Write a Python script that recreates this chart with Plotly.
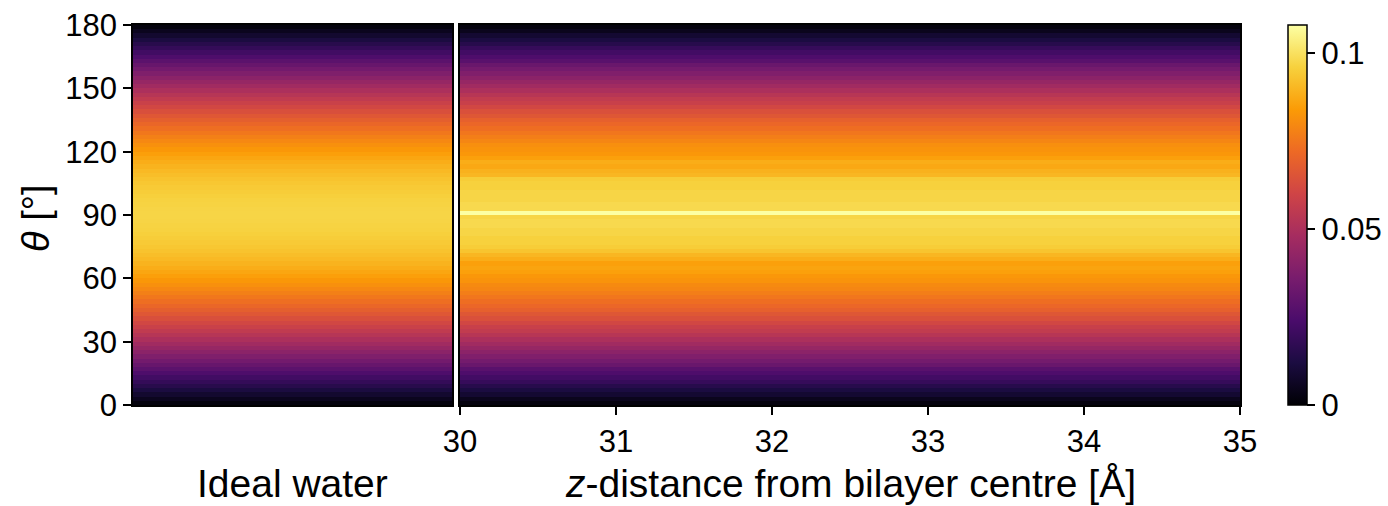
import plotly.graph_objects as go

# theta bin centres (2 degree bins)
theta = list(range(1, 180, 2))

# ideal water orientation distribution (single column)
ideal_profile = [
    0.0017, 0.0051, 0.0085, 0.0118, 0.0152, 0.0185, 0.0218, 0.0251, 0.0284, 0.0316,
    0.0348, 0.0379, 0.0410, 0.0440, 0.0470, 0.0500, 0.0528, 0.0556, 0.0584, 0.0610,
    0.0636, 0.0662, 0.0686, 0.0709, 0.0732, 0.0754, 0.0775, 0.0795, 0.0814, 0.0831,
    0.0848, 0.0864, 0.0879, 0.0893, 0.0906, 0.0917, 0.0928, 0.0937, 0.0945, 0.0952,
    0.0958, 0.0963, 0.0966, 0.0969, 0.0970,
    0.0970, 0.0969, 0.0966, 0.0963, 0.0958, 0.0952, 0.0945, 0.0937, 0.0928, 0.0917,
    0.0906, 0.0893, 0.0879, 0.0864, 0.0848, 0.0831, 0.0814, 0.0795, 0.0775, 0.0754,
    0.0732, 0.0709, 0.0686, 0.0662, 0.0636, 0.0610, 0.0584, 0.0556, 0.0528, 0.0500,
    0.0470, 0.0440, 0.0410, 0.0379, 0.0348, 0.0316, 0.0284, 0.0251, 0.0218, 0.0185,
    0.0152, 0.0118, 0.0085, 0.0051, 0.0017,
]

# simulated profile (same at every z)
sim_profile = [
    0.002, 0.005, 0.009, 0.012, 0.015, 0.019, 0.022, 0.025, 0.028, 0.032,
    0.035, 0.038, 0.041, 0.044, 0.047, 0.050, 0.053, 0.056, 0.058, 0.061,
    0.064, 0.066, 0.069, 0.071, 0.073, 0.075, 0.077, 0.079, 0.080, 0.082,
    0.083, 0.085, 0.086, 0.085, 0.088, 0.090, 0.093, 0.095, 0.096, 0.096,
    0.097, 0.097, 0.098, 0.098, 0.097, 0.108, 0.098, 0.098, 0.097, 0.097,
    0.097, 0.096, 0.096, 0.095, 0.090, 0.089, 0.087, 0.088, 0.085, 0.083,
    0.082, 0.081, 0.079, 0.077, 0.075, 0.073, 0.071, 0.069, 0.066, 0.064,
    0.061, 0.058, 0.056, 0.053, 0.050, 0.047, 0.044, 0.041, 0.038, 0.035,
    0.032, 0.028, 0.025, 0.022, 0.019, 0.015, 0.012, 0.009, 0.005, 0.002,
]

# z bin centres (0.1 Å bins from 30 to 35)
z_centres = [round(30.05 + 0.1 * i, 2) for i in range(50)]

x_ticks = [30, 31, 32, 33, 34, 35]
y_ticks = [0, 30, 60, 90, 120, 150, 180]
cbar_ticks = [0, 0.05, 0.1]
cbar_ticktext = ["0", "0.05", "0.1"]

W, H = 1388, 506
FONT = "Liberation Sans, Arial, sans-serif"
L, R, T, B = 133, W - 1240, 25, H - 405
PW, PH = W - L - R, H - T - B

def px_x(x):
    return (x - L) / PW

def px_y(y):
    return (H - B - y) / PH

z_left = [[v] for v in ideal_profile]
z_right = [[v] * len(z_centres) for v in sim_profile]

fig = go.Figure()
fig.add_trace(go.Heatmap(x=[0], y=theta, z=z_left, coloraxis="coloraxis",
                         xaxis="x", yaxis="y"))
fig.add_trace(go.Heatmap(x=z_centres, y=theta, z=z_right, coloraxis="coloraxis",
                         xaxis="x2", yaxis="y2"))

axis_common = dict(showline=True, linecolor="black", linewidth=1.5, mirror=True,
                   showgrid=False, zeroline=False, automargin=False)
TICKF = dict(size=31, family=FONT)

fig.update_layout(
    width=W, height=H,
    margin=dict(l=L, r=R, t=T, b=B, autoexpand=False),
    paper_bgcolor="white", plot_bgcolor="white",
    font=dict(family=FONT, color="black", size=31),
    xaxis=dict(domain=[0, px_x(452)], range=[-0.5, 0.5], showticklabels=False,
               ticks="", **axis_common),
    yaxis=dict(domain=[0, 1], range=[0, 180], tickvals=y_ticks, ticks="outside",
               ticklen=8, tickwidth=1.5, tickcolor="black", tickfont=TICKF,
               anchor="x", **axis_common),
    xaxis2=dict(domain=[px_x(460), 1], range=[30, 35], tickvals=x_ticks,
                ticks="outside", ticklen=8, tickwidth=1.5, tickcolor="black",
                tickfont=TICKF, anchor="y2", **axis_common),
    yaxis2=dict(domain=[0, 1], range=[0, 180], showticklabels=False, ticks="",
                anchor="x2", **axis_common),
    coloraxis=dict(
        colorscale="Inferno", cmin=0, cmax=0.108,
        colorbar=dict(
            x=px_x(1288), xanchor="left", y=0, yanchor="bottom",
            len=1, lenmode="fraction", thickness=19, thicknessmode="pixels",
            outlinewidth=1.5, outlinecolor="black",
            tickvals=cbar_ticks, ticktext=cbar_ticktext, ticks="outside",
            ticklen=8, tickwidth=1.5, tickcolor="black",
            tickfont=TICKF, xpad=0, ypad=0,
        ),
    ),
    annotations=[
        dict(text="Ideal water", x=px_x(292), y=px_y(483), xref="paper", yref="paper",
             xanchor="center", yanchor="middle", showarrow=False,
             font=dict(size=39, family=FONT)),
        dict(text="<i>z</i>-distance from bilayer centre [Å]", x=px_x(850), y=px_y(483),
             xref="paper", yref="paper", xanchor="center", yanchor="middle",
             showarrow=False, font=dict(size=39, family=FONT)),
        dict(text="<i>θ</i> [°]", x=px_x(36), y=px_y(218), xref="paper", yref="paper",
             xanchor="center", yanchor="middle", textangle=-90, showarrow=False,
             font=dict(size=38, family=FONT)),
    ],
)

fig.write_html("out.html")
